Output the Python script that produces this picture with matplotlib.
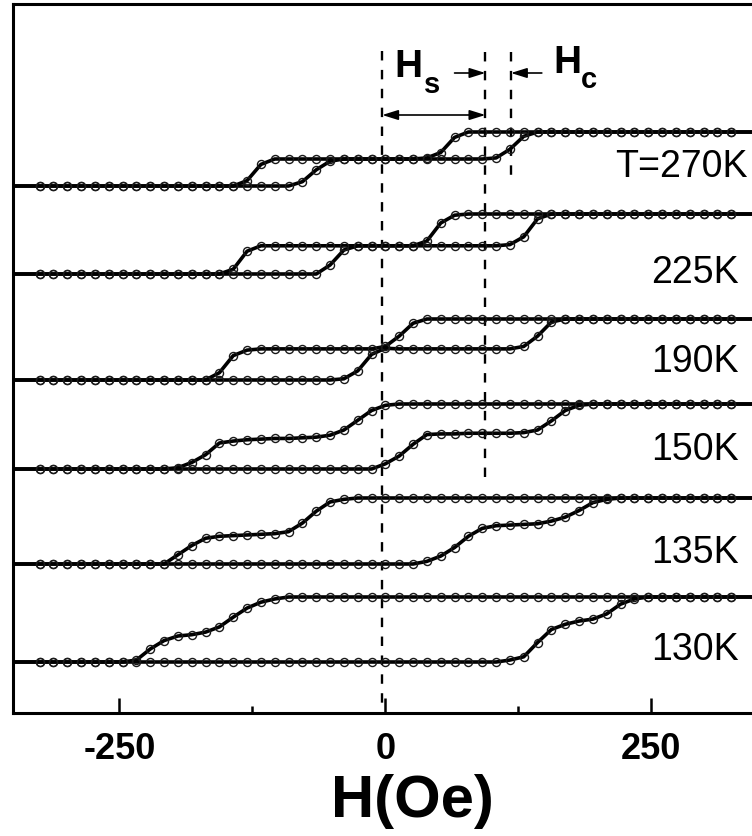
import matplotlib
matplotlib.use("Agg")
import matplotlib.pyplot as plt
import numpy as np

plt.rcParams['font.family'] = ['Liberation Sans', 'DejaVu Sans']

# applied field (Oe), same grid for every loop
field = [-325, -312, -299, -286, -273, -260, -247, -234, -221, -208,
         -195, -182, -169, -156, -143, -130, -117, -104, -91, -78,
         -65, -52, -39, -26, -13, 0, 13, 26, 39, 52,
         65, 78, 91, 104, 117, 130, 143, 156, 169, 182,
         195, 208, 221, 234, 247, 260, 273, 286, 299, 312, 325]

temps = ['T=270K', '225K', '190K', '150K', '135K', '130K']
offset = [527, 439, 333, 244, 149, 51]      # vertical shift of each loop (arb. units)
amplitude = [54, 60, 61, 65, 66, 65]        # full loop height (arb. units)

# normalised magnetisation, 0 = negative saturation, 1 = positive saturation
# descending branch (field swept down)
desc_270 = [0, 0, 0, 0, 0, 0, 0, 0, 0, 0, 0, 0, 0, 0, 0, 0.1, 0.4,
            0.5, 0.5, 0.5, 0.5, 0.5, 0.5, 0.5, 0.5, 0.5, 0.5, 0.5,
            0.52, 0.62, 0.9, 1, 1, 1, 1, 1, 1, 1, 1, 1, 1, 1, 1, 1, 1, 1, 1, 1, 1, 1, 1]
desc_225 = [0, 0, 0, 0, 0, 0, 0, 0, 0, 0, 0, 0, 0, 0, 0.08, 0.38,
            0.47, 0.47, 0.47, 0.47, 0.47, 0.47, 0.47, 0.47, 0.47, 0.47, 0.47, 0.47,
            0.55, 0.85, 0.98, 1, 1, 1, 1, 1, 1, 1, 1, 1, 1, 1, 1, 1, 1, 1, 1, 1, 1, 1, 1]
desc_190 = [0, 0, 0, 0, 0, 0, 0, 0, 0, 0, 0, 0, 0, 0.12, 0.4, 0.49,
            0.51, 0.51, 0.51, 0.51, 0.51, 0.51, 0.51, 0.51, 0.51,
            0.55, 0.72, 0.93, 1, 1, 1, 1, 1, 1, 1, 1, 1, 1, 1, 1, 1, 1, 1, 1, 1, 1, 1, 1, 1, 1, 1]
desc_150 = [0, 0, 0, 0, 0, 0, 0, 0, 0, 0, 0.02, 0.1, 0.22, 0.4, 0.43, 0.45,
            0.46, 0.47, 0.47, 0.48, 0.49, 0.52, 0.6, 0.75, 0.9, 0.98,
            1, 1, 1, 1, 1, 1, 1, 1, 1, 1, 1, 1, 1, 1, 1, 1, 1, 1, 1, 1, 1, 1, 1, 1, 1]
desc_135 = [0, 0, 0, 0, 0, 0, 0, 0, 0, 0, 0.14, 0.28, 0.39, 0.42, 0.43, 0.44,
            0.45, 0.46, 0.49, 0.62, 0.8, 0.94, 0.98,
            1, 1, 1, 1, 1, 1, 1, 1, 1, 1, 1, 1, 1, 1, 1, 1, 1, 1, 1, 1, 1, 1, 1, 1, 1, 1, 1, 1]
desc_130 = [0, 0, 0, 0, 0, 0, 0, 0.03, 0.2, 0.33, 0.4, 0.42, 0.46, 0.54, 0.69,
            0.83, 0.92, 0.97, 1, 1, 1, 1, 1, 1, 1, 1, 1, 1, 1, 1, 1, 1, 1, 1,
            1, 1, 1, 1, 1, 1, 1, 1, 1, 1, 1, 1, 1, 1, 1, 1, 1]

# ascending branch (field swept up)
asc_270 = [0, 0, 0, 0, 0, 0, 0, 0, 0, 0, 0, 0, 0, 0, 0, 0, 0, 0, 0,
           0.08, 0.3, 0.46, 0.5, 0.5, 0.5, 0.5, 0.5, 0.5, 0.5, 0.5, 0.5, 0.5, 0.5,
           0.52, 0.68, 0.92, 1, 1, 1, 1, 1, 1, 1, 1, 1, 1, 1, 1, 1, 1, 1]
asc_225 = [0, 0, 0, 0, 0, 0, 0, 0, 0, 0, 0, 0, 0, 0, 0, 0, 0, 0, 0, 0, 0,
           0.15, 0.4, 0.47, 0.47, 0.47, 0.47, 0.47, 0.47, 0.47, 0.47, 0.47, 0.47, 0.47,
           0.49, 0.62, 0.92, 1, 1, 1, 1, 1, 1, 1, 1, 1, 1, 1, 1, 1, 1]
asc_190 = [0, 0, 0, 0, 0, 0, 0, 0, 0, 0, 0, 0, 0, 0, 0, 0, 0, 0, 0, 0, 0, 0,
           0.02, 0.15, 0.42, 0.52, 0.51, 0.51, 0.51, 0.51, 0.51, 0.51, 0.51, 0.51, 0.51,
           0.55, 0.72, 0.95, 1, 1, 1, 1, 1, 1, 1, 1, 1, 1, 1, 1, 1]
asc_150 = [0, 0, 0, 0, 0, 0, 0, 0, 0, 0, 0, 0, 0, 0, 0, 0, 0, 0, 0, 0, 0, 0, 0, 0, 0,
           0.08, 0.2, 0.38, 0.53, 0.54, 0.54, 0.55, 0.55, 0.55, 0.55, 0.56,
           0.6, 0.74, 0.9, 0.98, 1, 1, 1, 1, 1, 1, 1, 1, 1, 1, 1]
asc_135 = [0, 0, 0, 0, 0, 0, 0, 0, 0, 0, 0, 0, 0, 0, 0, 0, 0, 0, 0, 0, 0, 0, 0, 0, 0, 0, 0, 0,
           0.04, 0.12, 0.25, 0.42, 0.54, 0.58, 0.59, 0.6, 0.61, 0.65, 0.71, 0.81, 0.93, 0.98,
           1, 1, 1, 1, 1, 1, 1, 1, 1]
asc_130 = [0, 0, 0, 0, 0, 0, 0, 0, 0, 0, 0, 0, 0, 0, 0, 0, 0, 0, 0, 0, 0, 0, 0, 0, 0, 0, 0, 0,
           0, 0, 0, 0, 0, 0, 0.03, 0.08, 0.3, 0.5, 0.58, 0.63, 0.66, 0.74, 0.89, 0.97,
           1, 1, 1, 1, 1, 1, 1]

descending = [desc_270, desc_225, desc_190, desc_150, desc_135, desc_130]
ascending = [asc_270, asc_225, asc_190, asc_150, asc_135, asc_130]

tick_values = [-250, 0, 250]
tick_labels = ['-250', '0', '250']

fig = plt.figure(figsize=(7.52, 8.37), dpi=100)
ax = fig.add_axes([13 / 752, 123 / 837, 798 / 752, 709 / 837])

h = np.array(field)
h_line = np.concatenate([[-350], h, [350]])
for k in range(len(temps)):
    for branch in (descending[k], ascending[k]):
        m = offset[k] + amplitude[k] * np.array(branch)
        m_line = np.concatenate([[m[0]], m, [m[-1]]])
        ax.plot(h_line, m_line, color='black', lw=2.6, solid_joinstyle='round', zorder=3)
        ax.plot(h, m, 'o', ms=5.8, mfc='none', mec='#1a1a1a', mew=1.0, zorder=4)

# temperature labels
label_x = [340, 332, 332, 332, 332, 332]
label_y = [537, 431, 342, 254, 151, 54]
for t, lx, ly in zip(temps, label_x, label_y):
    ax.text(lx, ly, t, fontsize=27, ha='right', va='baseline')

# Hs / Hc construction
dash = dict(color='black', lw=1.7, dashes=(4, 4), zorder=2)
ax.plot([-3, -3], [662, 0], **dash)
ax.plot([94, 94], [661, 232], **dash)
ax.plot([118, 118], [661, 529], **dash)

head = dict(color='black', lw=1.2, shrinkA=0, shrinkB=0, mutation_scale=12)
ax.annotate('', xy=(-3, 598), xytext=(94, 598),
            arrowprops=dict(arrowstyle='<|-|>,head_length=0.8,head_width=0.25', **head))
ax.annotate('', xy=(94, 640), xytext=(65, 640),
            arrowprops=dict(arrowstyle='-|>,head_length=0.8,head_width=0.25', **head))
ax.annotate('', xy=(118, 640), xytext=(147, 640),
            arrowprops=dict(arrowstyle='-|>,head_length=0.8,head_width=0.25', **head))

ax.text(8.5, 637, 'H', fontsize=28, fontweight='bold', va='baseline')
ax.text(36, 621, 's', fontsize=21, fontweight='bold', va='baseline')
ax.text(158, 641, 'H', fontsize=28, fontweight='bold', va='baseline')
ax.text(184, 626, 'c', fontsize=21, fontweight='bold', va='baseline')

ax.set_xlim(-350, 400)
ax.set_ylim(0, 709)
ax.set_yticks([])
ax.set_xticks(tick_values)
ax.set_xticklabels(tick_labels, fontsize=26, fontweight='bold')
ax.set_xticks([-125, 125], minor=True)
ax.tick_params(axis='x', which='major', direction='in', length=11, width=1.8, pad=13)
ax.tick_params(axis='x', which='minor', direction='in', length=5, width=1.8)
for s in ax.spines.values():
    s.set_linewidth(2.2)
ax.set_xlabel('H(Oe)', fontsize=43, fontweight='bold', labelpad=5)

fig.savefig('out.png', dpi=100)
